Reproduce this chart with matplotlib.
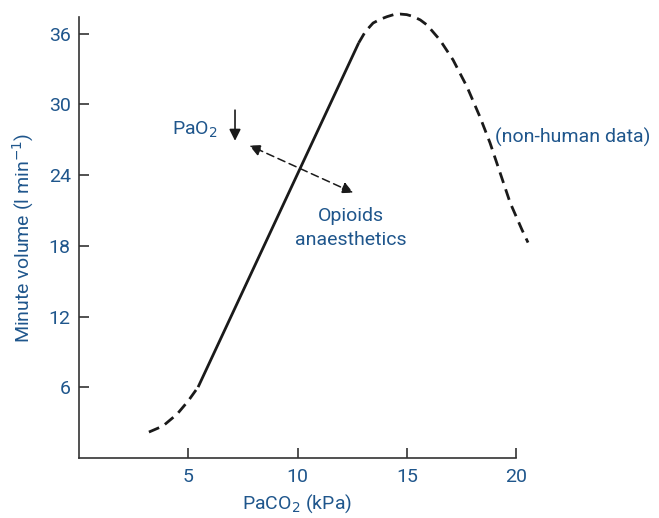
import matplotlib
matplotlib.use("Agg")
import matplotlib.pyplot as plt

# ---- data: minute volume vs PaCO2 ----
# low end (dashed), linear range (solid), depression at high CO2 (dashed)
low_x = [3.20, 3.84, 4.49, 4.99, 5.45]
low_y = [2.20, 2.71, 3.72, 4.82, 6.01]

lin_x = [5.45, 12.80]
lin_y = [6.01, 35.2]

high_x = [12.80, 13.10, 13.46, 13.78, 14.10, 14.40, 14.69, 15.00, 15.29,
          15.62, 15.93, 16.52, 17.12, 17.76, 18.35, 18.81, 19.27, 19.73,
          20.27, 20.55]
high_y = [35.2, 36.15, 36.89, 37.20, 37.43, 37.60, 37.65, 37.60, 37.45,
          37.15, 36.72, 35.45, 33.76, 31.47, 28.93, 26.73, 24.20, 21.66,
          19.37, 18.27]

x_ticks = [5, 10, 15, 20]
y_ticks = [6, 12, 18, 24, 30, 36]

BLUE = "#1f568c"
INK = "#1a1a1a"
plt.rcParams["font.family"] = ["Roboto", "DejaVu Sans"]
FS = 14

fig = plt.figure(figsize=(6.59, 5.18), dpi=100)
ax = fig.add_axes([79 / 659, (518 - 458) / 518, (516 - 79) / 659, (458 - 17) / 518])

curve_kw = dict(color=INK, lw=2.0, solid_joinstyle="round", clip_on=False)
ax.plot(low_x, low_y, dashes=(4, 2.4), **curve_kw)
ax.plot(lin_x, lin_y, solid_capstyle="butt", **curve_kw)
ax.plot(high_x, high_y, dashes=(4, 2.4), **curve_kw)

ax.set_xlim(0, 20)
ax.set_ylim(0, 37.4)

for s in ["top", "right"]:
    ax.spines[s].set_visible(False)
for s in ["left", "bottom"]:
    ax.spines[s].set_color("#333333")
    ax.spines[s].set_linewidth(1.2)

ax.set_xticks(x_ticks)
ax.set_yticks(y_ticks)
ax.tick_params(direction="in", length=7, width=1.2, color="#333333",
               labelcolor=BLUE, labelsize=FS)
ax.tick_params(axis="y", pad=6)
ax.tick_params(axis="x", pad=7)

ax.set_xlabel("PaCO$_2$ (kPa)", color=BLUE, fontsize=FS, labelpad=5)
ax.set_ylabel("Minute volume (l min$^{-1}$)", color=BLUE, fontsize=FS, labelpad=9)

# annotations
ax.text(4.25, 27.8, "PaO$_2$", color=BLUE, fontsize=FS, ha="left", va="center")
ax.annotate("", xy=(7.14, 26.9), xytext=(7.14, 29.5),
            arrowprops=dict(arrowstyle="-|>", color=INK, lw=1.2,
                            mutation_scale=17, shrinkA=0, shrinkB=0))
ax.annotate("", xy=(7.80, 26.5), xytext=(12.55, 22.5),
            arrowprops=dict(arrowstyle="<|-|>", color=INK, lw=1.1,
                            linestyle=(0, (5, 3)), mutation_scale=17,
                            shrinkA=0, shrinkB=0))
ax.text(12.45, 20.5, "Opioids", color=BLUE, fontsize=FS, ha="center", va="center")
ax.text(12.45, 18.5, "anaesthetics", color=BLUE, fontsize=FS, ha="center", va="center")
ax.text(19.05, 27.2, "(non-human data)", color=BLUE, fontsize=FS, ha="left",
        va="center", clip_on=False)

fig.savefig("out.png", dpi=100)
plt.close(fig)
